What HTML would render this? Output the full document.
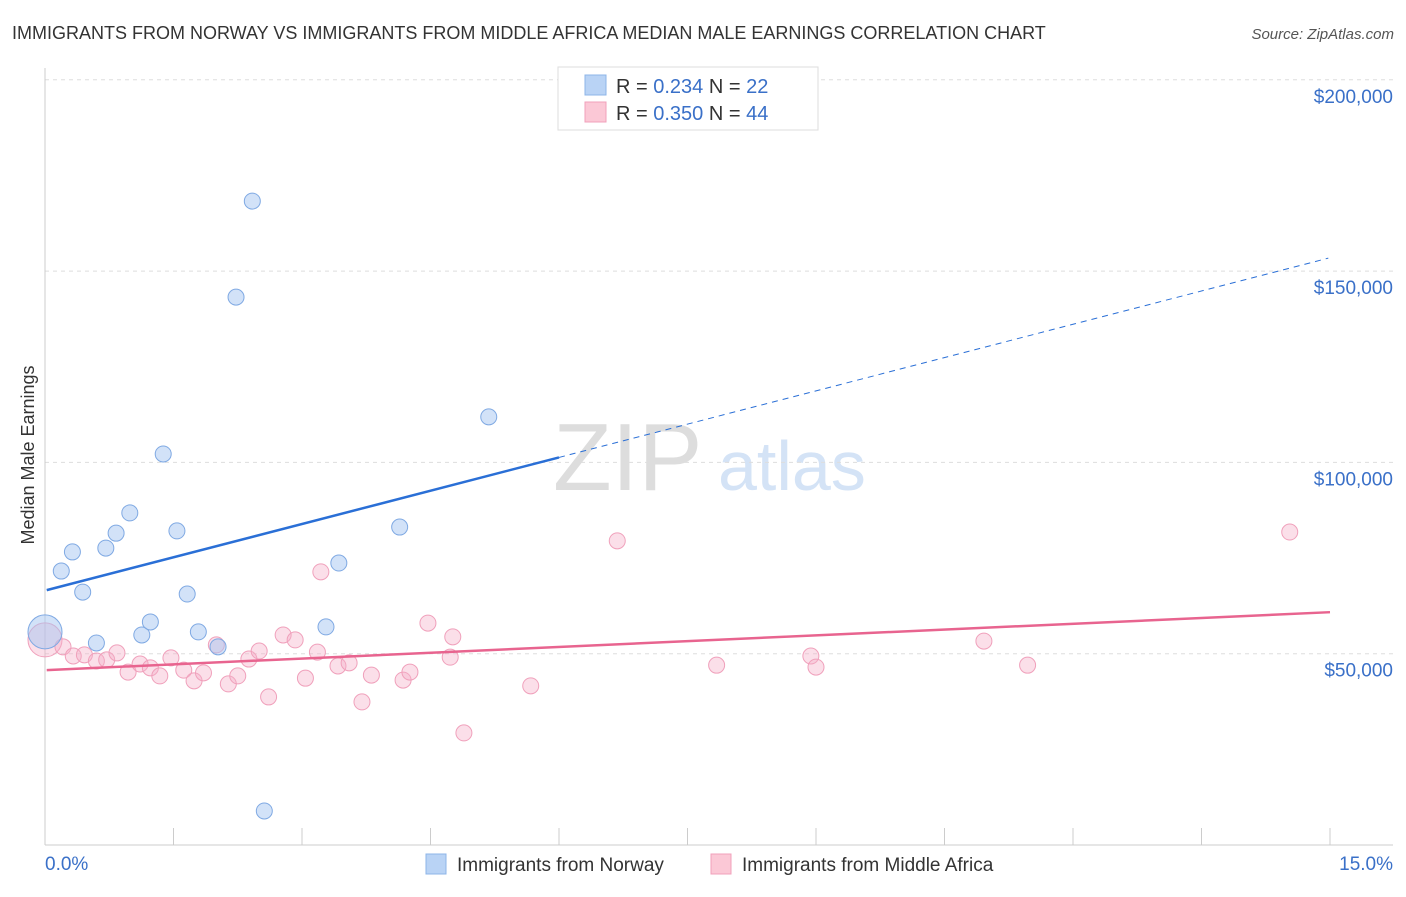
<!DOCTYPE html>
<html><head><meta charset="utf-8"><style>
body{margin:0;background:#fff;font-family:"Liberation Sans",sans-serif;}
svg text{font-family:"Liberation Sans",sans-serif;}
</style></head><body>
<svg id="chart" width="1406" height="892" xmlns="http://www.w3.org/2000/svg">
<text x="12" y="39" font-size="18" fill="#333">IMMIGRANTS FROM NORWAY VS IMMIGRANTS FROM MIDDLE AFRICA MEDIAN MALE EARNINGS CORRELATION CHART</text>
<text x="1394" y="39" font-size="15" fill="#555" text-anchor="end" font-style="italic">Source: ZipAtlas.com</text>
<text x="553" y="490" font-size="96" fill="#ddd" font-family="Liberation Serif">ZIP</text>
<text x="718" y="490" font-size="70" fill="#d4e3f6">atlas</text>
<text transform="translate(34,455) rotate(-90)" font-size="18" fill="#333" text-anchor="middle">Median Male Earnings</text>
<g id="grid"></g><g id="marks"></g>
<g>
<rect x="558" y="67" width="260" height="63" fill="#fff" stroke="#ddd"/>
<rect x="585" y="75" width="21" height="20" fill="#b9d3f5" stroke="#8db4e8"/>
<rect x="585" y="102" width="21" height="20" fill="#fbc8d6" stroke="#f0a0bb"/>
<text x="616" y="93" font-size="20" fill="#333">R = <tspan fill="#3a70c8">0.234</tspan>   N = <tspan fill="#3a70c8">22</tspan></text>
<text x="616" y="120" font-size="20" fill="#333">R = <tspan fill="#3a70c8">0.350</tspan>   N = <tspan fill="#3a70c8">44</tspan></text>
</g>
<g>
<rect x="426" y="854" width="20" height="20" fill="#b9d3f5" stroke="#8db4e8"/>
<text x="457" y="871" font-size="19" fill="#333">Immigrants from Norway</text>
<rect x="711" y="854" width="20" height="20" fill="#fbc8d6" stroke="#f0a0bb"/>
<text x="742" y="871" font-size="19" fill="#333">Immigrants from Middle Africa</text>
</g>
<text x="45" y="870" font-size="19" fill="#3a70c8">0.0%</text>
<text x="1393" y="870" font-size="19" fill="#3a70c8" text-anchor="end">15.0%</text>
</svg>
<script>
const yTicks=[50000,100000,150000,200000];
const yTickLabels=["$50,000","$100,000","$150,000","$200,000"];
const xTicks=[0,1.5,3,4.5,6,7.5,9,10.5,12,13.5,15];
const norwayX=[0,0.19,0.32,0.44,0.60,0.71,0.83,0.99,1.13,1.23,1.38,1.54,1.66,1.79,2.02,2.23,2.42,2.56,3.28,3.43,4.14,5.18];
const norwayY=[55.7,71.6,76.6,66.1,52.8,77.6,81.5,86.8,54.9,58.3,102.2,82.1,65.6,55.7,51.8,143.2,168.3,8.9,57.0,73.7,83.1,111.9];
const africaX=[0,.21,.33,.46,.60,.72,.84,.97,1.11,1.23,1.34,1.47,1.62,1.74,1.85,2.00,2.14,2.25,2.38,2.50,2.61,2.78,2.92,3.04,3.18,3.22,3.42,3.55,3.70,3.81,4.18,4.26,4.47,4.73,4.76,4.89,5.67,6.68,7.84,8.94,9.00,10.96,11.47,14.53];
const africaY=[53.6,51.8,49.4,49.7,48.1,48.4,50.2,45.2,47.3,46.3,44.2,48.9,45.7,42.9,45.0,52.3,42.1,44.2,48.6,50.7,38.7,54.9,53.6,43.6,50.4,71.4,46.8,47.6,37.4,44.4,43.1,45.2,58.0,49.1,54.4,29.3,41.6,79.5,47.0,49.4,46.5,53.3,47.0,81.8];
const norwayTrend=[66.5,5.8];
const africaTrend=[45.7,1.01];
const xs=v=>45+v/15*1285;
const ys=v=>845-v/50000*191.3;
const NS="http://www.w3.org/2000/svg";
function mk(p,t,a){const e=document.createElementNS(NS,t);for(const k in a)e.setAttribute(k,a[k]);p.appendChild(e);return e;}
const grid=document.getElementById('grid'),marks=document.getElementById('marks');
yTicks.forEach((v,i)=>{
 const l=mk(grid,'line',{x1:45,x2:1393,y1:ys(v),y2:ys(v),stroke:'#ddd','stroke-dasharray':'4,4'});
 
 
 const t=mk(grid,'text',{x:1393,y:ys(v)+23,'font-size':19,fill:'#3a70c8','text-anchor':'end'});
 t.textContent=yTickLabels[i];
 
 
});
xTicks.forEach(v=>{
 const l=mk(grid,'line',{x1:xs(v),x2:xs(v),y1:828,y2:845,stroke:'#ccc'});
 
 
});
let ax=mk(grid,'line',{x1:45,x2:45,y1:68,y2:845,stroke:'#ccc'});


ax=mk(grid,'line',{x1:45,x2:1393,y1:845,y2:845,stroke:'#ccc'});


function pts(X,Y,fill,stroke,name){
 X.forEach((x,i)=>{
  const c=mk(marks,'circle',{cx:xs(x),cy:ys(Y[i]*1000),r:(i==0?17:8),fill:fill,stroke:stroke,'stroke-width':1});
  
  
 });
}
pts(africaX,africaY,'rgba(246,176,199,0.4)','#f0a0bb','point-middle-africa');
pts(norwayX,norwayY,'rgba(165,198,242,0.5)','#7fa9e3','point-norway');
const ty=(t,x)=>ys((t[0]+t[1]*x)*1000);
let l=mk(marks,'line',{x1:xs(0.02),y1:ty(norwayTrend,0.02),x2:xs(6),y2:ty(norwayTrend,6),stroke:'#2a6fd6','stroke-width':2.5});


l=mk(marks,'line',{x1:xs(6),y1:ty(norwayTrend,6),x2:xs(14.98),y2:ty(norwayTrend,14.98),stroke:'#2a6fd6','stroke-width':1,'stroke-dasharray':'6,5'});


l=mk(marks,'line',{x1:xs(0.02),y1:ty(africaTrend,0.02),x2:xs(15),y2:ty(africaTrend,15),stroke:'#e8648f','stroke-width':2.5});


</script>
</body></html>
